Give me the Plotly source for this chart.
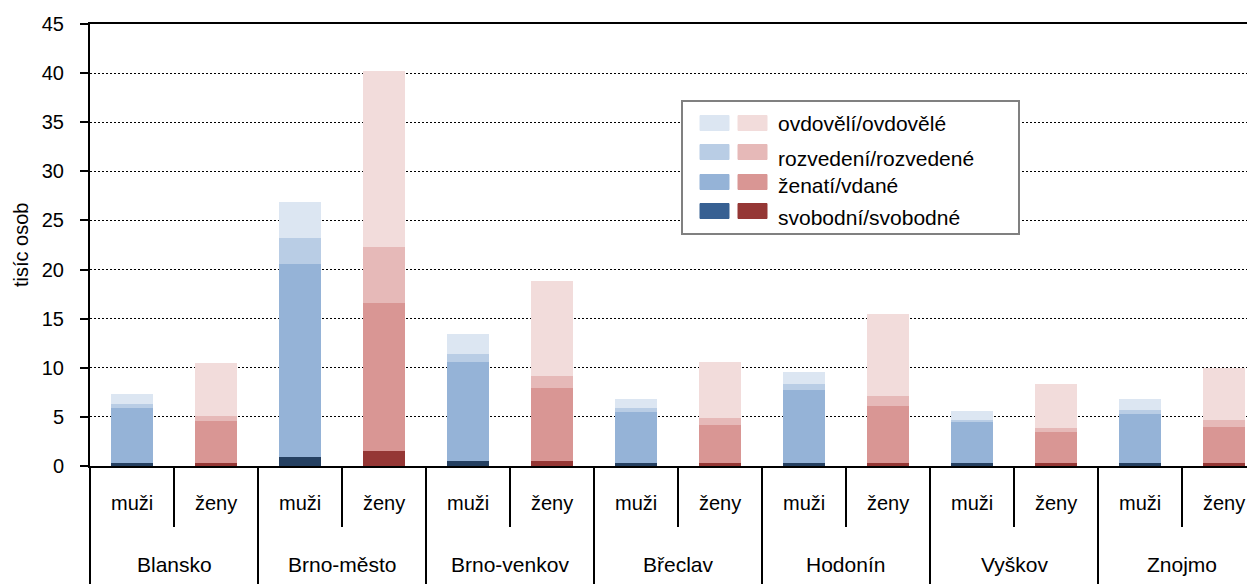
import plotly.graph_objects as go

groups = ["Blansko", "Brno-město", "Brno-venkov", "Břeclav", "Hodonín", "Vyškov", "Znojmo"]
sexes = ["muži", "ženy"]

# values in thousands, per (group, sex) in order muži, ženy
svobodni = [0.3, 0.3, 0.9, 1.5, 0.5, 0.5, 0.3, 0.3, 0.3, 0.3, 0.3, 0.3, 0.3, 0.3]
zenati = [5.6, 4.3, 19.7, 15.1, 10.1, 7.4, 5.2, 3.9, 7.4, 5.8, 4.2, 3.2, 5.0, 3.7]
rozvedeni = [0.4, 0.5, 2.6, 5.7, 0.8, 1.3, 0.4, 0.7, 0.6, 1.0, 0.2, 0.4, 0.4, 0.7]
ovdoveli = [1.0, 5.4, 3.7, 17.9, 2.0, 9.6, 0.9, 5.7, 1.3, 8.4, 0.9, 4.4, 1.1, 5.3]

series_names = ["svobodní/svobodné", "ženatí/vdané", "rozvedení/rozvedené", "ovdovělí/ovdovělé"]
blue_cols = ["#254061", "#95B3D7", "#B9CDE5", "#DCE6F2"]
red_cols = ["#953735", "#D99694", "#E6B9B8", "#F2DCDB"]
legend_blue = ["#376092", "#95B3D7", "#B9CDE5", "#DCE6F2"]
y_title = "tisíc osob"

x_outer = [g for g in groups for _ in sexes]
x_inner = [s for _ in groups for s in sexes]

FONT = "Liberation Sans, Arial, sans-serif"
PAGE_W, PAGE_H = 1255, 584
OFF = 8  # default body margin of the html page
W, H = PAGE_W - OFF, PAGE_H - OFF
# plot area in page pixels
P_LEFT, P_RIGHT, P_TOP, P_BOTTOM = 90, 1255, 24, 466
ML = P_LEFT - OFF
MR = 0
MT = P_TOP - OFF
MB = H - (P_BOTTOM - OFF)
pw = W - ML - MR
ph = H - MT - MB
SUB_W = 84.0
xmax = -0.5 + pw / SUB_W

fig = go.Figure()
for name, vals, bc, rc in zip(series_names, [svobodni, zenati, rozvedeni, ovdoveli], blue_cols, red_cols):
    colors = [bc if s == "muži" else rc for s in x_inner]
    fig.add_trace(go.Bar(
        x=[x_outer, x_inner], y=vals, name=name,
        marker=dict(color=colors, line=dict(width=0)),
        width=0.5, showlegend=False,
    ))

fig.update_layout(
    width=W, height=H,
    margin=dict(l=ML, r=MR, t=MT, b=MB, pad=0),
    barmode="stack",
    plot_bgcolor="white", paper_bgcolor="white",
    font=dict(family=FONT, size=20, color="black"),
    showlegend=False,
    xaxis=dict(
        type="multicategory", range=[-0.5, xmax], automargin=False,
        showline=True, linecolor="black", linewidth=2, mirror=True,
        showticklabels=False, ticks="", showdividers=False,
        showgrid=False,
    ),
    yaxis=dict(
        range=[0, 45], dtick=5, tick0=0, automargin=False,
        showline=True, linecolor="black", linewidth=2,
        ticks="outside", ticklen=8, tickcolor="black", tickwidth=1.5,
        ticklabelstandoff=12,
        showgrid=True, gridcolor="black", gridwidth=1.2, griddash="2px,2px",
        zeroline=False,
        tickfont=dict(family=FONT, size=20, color="black"),
    ),
)

# page pixel -> paper coordinates
def pxx(xp):
    return (xp - P_LEFT) / pw

def pyy(yp):
    return (P_BOTTOM - yp) / ph

def idx_px(v):
    return P_LEFT + (v + 0.5) * SUB_W

# y axis title
fig.add_annotation(xref="paper", yref="paper", x=pxx(21), y=pyy(245), text=y_title,
                   textangle=-90, showarrow=False, xanchor="center", yanchor="middle",
                   font=dict(family=FONT, size=20, color="black"))

# category table below axis
for i in range(len(x_inner) + 1):
    xb = idx_px(i - 0.5)
    if xb > PAGE_W + 1:
        continue
    bottom = PAGE_H + 5 if i % 2 == 0 else 527
    fig.add_shape(type="line", xref="paper", yref="paper",
                  x0=pxx(xb), x1=pxx(xb), y0=pyy(P_BOTTOM), y1=pyy(bottom),
                  line=dict(color="black", width=2))
for i, s in enumerate(x_inner):
    fig.add_annotation(xref="paper", yref="paper", x=pxx(idx_px(i)), y=pyy(503),
                       text=s, showarrow=False, xanchor="center", yanchor="middle",
                       font=dict(family=FONT, size=20, color="black"))
for g_i, g in enumerate(groups):
    fig.add_annotation(xref="paper", yref="paper", x=pxx(idx_px(2 * g_i + 0.5)), y=pyy(564),
                       text=g, showarrow=False, xanchor="center", yanchor="middle",
                       font=dict(family=FONT, size=21, color="black"))

# custom legend box
fig.add_shape(type="rect", xref="paper", yref="paper",
              x0=pxx(682), x1=pxx(1019), y0=pyy(234), y1=pyy(101),
              line=dict(color="#808080", width=2), fillcolor="white", layer="above")
swatch_y = [211, 182, 152, 123]
text_y = [217, 185, 158, 124]
for i, name in enumerate(series_names):
    yc = swatch_y[i]
    for x0, col in [(700, legend_blue[i]), (738, red_cols[i])]:
        fig.add_shape(type="rect", xref="paper", yref="paper",
                      x0=pxx(x0), x1=pxx(x0 + 29), y0=pyy(yc + 7.5), y1=pyy(yc - 7.5),
                      line=dict(color=col, width=1), fillcolor=col, layer="above")
    fig.add_annotation(xref="paper", yref="paper", x=pxx(776), y=pyy(text_y[i]),
                       text=name, showarrow=False, xanchor="left", yanchor="middle",
                       font=dict(family=FONT, size=21, color="black"))

fig.write_html("out.html")
